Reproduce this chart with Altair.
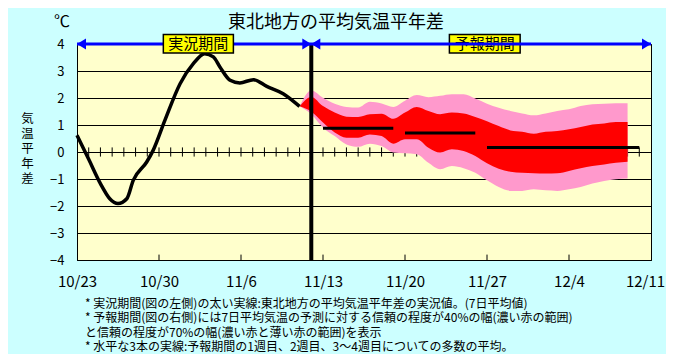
import json
import altair as alt
import pandas as pd

# ---------------- data ----------------
# observed 7-day mean anomaly (day offset from 10/23)
obs_day = [0, 1, 2, 2.8, 3.5, 4.25, 4.8, 5.95, 6.5, 7.5, 8.8, 9.93, 10.9, 11.64,
           12.2, 13.07, 13.9, 15.06, 16.2, 17.6, 19.0]
obs_value = [0.62, -0.27, -1.17, -1.73, -1.91, -1.73, -1.05, -0.37, 0.06, 1.17,
             2.53, 3.27, 3.64, 3.52, 3.15, 2.66, 2.56, 2.68, 2.43, 2.16, 1.69]

# forecast bands (day 19 .. 47)
fc_day = list(range(19, 48))
fc_p70_upper = [1.69, 2.28, 2.01, 1.79, 1.67, 1.65, 1.86, 1.80, 1.67, 1.90, 2.11,
                2.03, 2.08, 2.14, 2.14, 1.98, 1.79, 1.64, 1.52, 1.43, 1.36, 1.43,
                1.52, 1.58, 1.70, 1.77, 1.79, 1.81, 1.81]
fc_p40_upper = [1.69, 2.04, 1.70, 1.46, 1.31, 1.30, 1.40, 1.42, 1.23, 1.46, 1.67,
                1.52, 1.40, 1.46, 1.43, 1.30, 1.14, 0.96, 0.80, 0.75, 0.68, 0.75,
                0.78, 0.84, 0.93, 1.02, 1.06, 1.11, 1.11]
fc_p40_lower = [1.69, 1.49, 1.09, 0.72, 0.53, 0.53, 0.65, 0.59, 0.31, 0.47, 0.47,
                0.16, -0.02, 0.10, 0.04, -0.15, -0.42, -0.62, -0.73, -0.77, -0.79,
                -0.80, -0.79, -0.70, -0.60, -0.52, -0.46, -0.40, -0.36]
fc_p70_lower = [1.69, 1.40, 0.90, 0.59, 0.28, 0.19, 0.31, 0.22, -0.02, -0.05, -0.08,
                -0.40, -0.64, -0.52, -0.60, -0.77, -1.05, -1.30, -1.44, -1.44, -1.38,
                -1.42, -1.44, -1.38, -1.30, -1.17, -1.07, -1.01, -0.98]

# weekly ensemble means
week_start = [21, 28, 35]
week_end = [27, 34, 48]
week_mean = [0.88, 0.70, 0.17]

forecast_start = [20]

tick_days = [0, 7, 14, 21, 28, 35, 42, 49]
tick_labels = ["10/23", "10/30", "11/6", "11/13", "11/20", "11/27", "12/4", "12/11"]
inner_tick_days = [7, 14, 21, 28, 35, 42]
daily_tick_days = list(range(1, 49))
y_ticks = [-4, -3, -2, -1, 0, 1, 2, 3, 4]

period_names = ["実況期間", "予報期間"]
period_left = [7.37, 31.79]
period_right = [13.35, 37.83]
period_center = [10.36, 34.8]

title_text = "東北地方の平均気温平年差"
unit_text = "℃"
y_title = ["気", "温", "平", "年", "差"]
footnotes = [
    "* 実況期間(図の左側)の太い実線:東北地方の平均気温平年差の実況値。(7日平均値)",
    "* 予報期間(図の右側)には7日平均気温の予測に対する信頼の程度が40%の幅(濃い赤の範囲)",
    " と信頼の程度が70%の幅(濃い赤と薄い赤の範囲)を表示",
    "* 水平な3本の実線:予報期間の1週目、2週目、3～4週目についての多数の平均。",
]

FONT = "Noto Sans CJK JP"

# ---------------- scales / axes ----------------
xscale = alt.Scale(domain=[0, 49], nice=False, zero=False)
yscale = alt.Scale(domain=[-4, 4], nice=False, zero=False)
label_expr = json.dumps(tick_labels) + "[round(datum.value / 7)]"
xaxis = alt.Axis(values=tick_days, labelExpr=label_expr, title=None, grid=False,
                 ticks=False, labelPadding=14, labelFontSize=15, labelFlush=False,
                 labelOffset={"condition": {"test": "datum.value == 49", "value": -6},
                              "value": 0},
                 domainColor="black", labelColor="black", labelFont=FONT)
yaxis = alt.Axis(values=y_ticks, grid=True, gridColor="black", gridOpacity=1,
                 gridWidth=1, ticks=False, labelPadding=13, labelFontSize=13,
                 domainColor="black", labelColor="black", labelFont=FONT,
                 title=y_title, titleAngle=0, titleX=-50, titleY=74,
                 titleAlign="center", titleBaseline="middle", titleFontSize=12.5,
                 titleLineHeight=15.2, titleFontWeight="normal", titleFont=FONT,
                 titleColor="black")


def X(f):
    return alt.X(f, type="quantitative", scale=xscale, axis=xaxis)


def Y(f):
    return alt.Y(f, type="quantitative", scale=yscale, axis=yaxis)


# ---------------- layers ----------------
ticks_df = pd.DataFrame({"day": daily_tick_days, "lo": -0.17, "hi": 0.17})
daily_ticks = alt.Chart(ticks_df).mark_rule(color="black", strokeWidth=1).encode(
    x=X("day"), y=Y("lo"), y2="hi")

inner_df = pd.DataFrame({"day": inner_tick_days, "lo": -4, "hi": -3.8})
inner_ticks = alt.Chart(inner_df).mark_rule(color="black", strokeWidth=1).encode(
    x=X("day"), y=Y("lo"), y2="hi")

fc_df = pd.DataFrame({"day": fc_day, "p70u": fc_p70_upper, "p40u": fc_p40_upper,
                      "p40l": fc_p40_lower, "p70l": fc_p70_lower})
band70 = alt.Chart(fc_df).mark_area(color="#FF99CC", opacity=1,
                                    interpolate="monotone").encode(
    x=X("day"), y=Y("p70u"), y2="p70l")
band40 = alt.Chart(fc_df).mark_area(color="#FF0000", opacity=1,
                                    interpolate="monotone").encode(
    x=X("day"), y=Y("p40u"), y2="p40l")

obs_df = pd.DataFrame({"day": obs_day, "value": obs_value})
obs_line = alt.Chart(obs_df).mark_line(color="black", strokeWidth=3.5,
                                       interpolate="monotone").encode(
    x=X("day"), y=Y("value"))

week_df = pd.DataFrame({"start": week_start, "end": week_end, "mean": week_mean})
week_lines = alt.Chart(week_df).mark_rule(color="black", strokeWidth=3).encode(
    x=X("start"), x2="end", y=Y("mean"))

fs_df = pd.DataFrame({"day": forecast_start, "lo": [-4], "hi": [4]})
fs_line = alt.Chart(fs_df).mark_rule(color="black", strokeWidth=4).encode(
    x=X("day"), y=Y("lo"), y2="hi")

period_df = pd.DataFrame({"name": period_names, "left": period_left,
                          "right": period_right, "center": period_center,
                          "lo": 3.67, "hi": 4.35, "mid": 4.0})
box_fc = alt.Chart(period_df.iloc[[1]]).mark_rect(
    fill="#FFFF00", stroke="black", strokeWidth=1.5).encode(
    x=X("left"), x2="right", y=Y("lo"), y2="hi")
txt_fc = alt.Chart(period_df.iloc[[1]]).mark_text(
    font=FONT, fontSize=15, color="black", baseline="middle").encode(
    x=X("center"), y=Y("mid"), text="name:N")
box_obs = alt.Chart(period_df.iloc[[0]]).mark_rect(
    fill="#FFFF00", stroke="black", strokeWidth=1.5).encode(
    x=X("left"), x2="right", y=Y("lo"), y2="hi")
txt_obs = alt.Chart(period_df.iloc[[0]]).mark_text(
    font=FONT, fontSize=15, color="black", baseline="middle").encode(
    x=X("center"), y=Y("mid"), text="name:N")

arrow_df = pd.DataFrame({"a": [0], "b": [49], "y": [4]})
arrow_line = alt.Chart(arrow_df).mark_rule(color="#0000FF", strokeWidth=3).encode(
    x=X("a"), x2="b", y=Y("y"))
left_heads = pd.DataFrame({"day": [0, 20], "y": [4, 4]})
right_heads = pd.DataFrame({"day": [20, 49], "y": [4, 4]})
head_l = alt.Chart(left_heads).mark_point(
    shape="M0,0L1,-0.62L1,0.62Z", filled=True, color="#0000FF", opacity=1,
    size=324).encode(x=X("day"), y=Y("y"))
head_r = alt.Chart(right_heads).mark_point(
    shape="M0,0L-1,-0.62L-1,0.62Z", filled=True, color="#0000FF", opacity=1,
    size=324).encode(x=X("day"), y=Y("y"))

one = pd.DataFrame({"k": [0]})
title_mark = alt.Chart(one).mark_text(
    font=FONT, fontSize=18, color="black", align="center", baseline="middle").encode(
    x=alt.value(259), y=alt.value(-21), text=alt.value(title_text))
unit_mark = alt.Chart(one).mark_text(
    font=FONT, fontSize=16, color="black", align="center", baseline="middle").encode(
    x=alt.value(-15), y=alt.value(-22), text=alt.value(unit_text))
foot_mark = alt.Chart(one).mark_text(
    font=FONT, fontSize=12, color="black", align="left", baseline="middle",
    lineHeight=14.6).encode(
    x=alt.value(8), y=alt.value(259.5), text=alt.value(footnotes))

chart = alt.layer(
    daily_ticks, inner_ticks, band70, band40, obs_line, week_lines, fs_line,
    box_fc, txt_fc, arrow_line, head_l, head_r, box_obs, txt_obs,
    title_mark, unit_mark, foot_mark,
).properties(
    width=574, height=216,
    padding={"left": 69, "top": 36, "right": 15, "bottom": 94},
    autosize=alt.AutoSizeParams(type="none"),
    background="#CCFFFF",
).configure_view(
    fill="#FFFFCC", stroke="black", strokeWidth=1,
)

chart.save("out.html", embed_options={"renderer": "svg", "actions": False})
